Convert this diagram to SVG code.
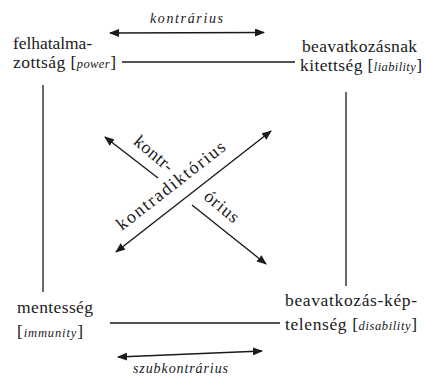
<svg xmlns="http://www.w3.org/2000/svg" width="425" height="378" viewBox="0 0 425 378">
<style>
text{font-family:"Liberation Serif","Times New Roman",serif;fill:#1a1a1a}
.n{font-size:17.5px}
.i{font-style:italic;font-size:12.5px}
.lab{font-style:italic;font-size:14px}
.d{font-size:18px}
.ln{stroke:#1a1a1a;stroke-width:1.3;fill:none}
.ar{stroke:#1a1a1a;stroke-width:1.4;fill:none;marker-end:url(#ah)}
.ar2{stroke:#1a1a1a;stroke-width:1.4;fill:none;marker-start:url(#ahs);marker-end:url(#ah)}
</style>
<defs>
<marker id="ah" viewBox="0 0 10 8" refX="9" refY="4" markerWidth="10" markerHeight="8" markerUnits="userSpaceOnUse" orient="auto"><path d="M0,0 L10,4 L0,8 Z" fill="#1a1a1a"/></marker>
<marker id="ahs" viewBox="0 0 10 8" refX="1" refY="4" markerWidth="10" markerHeight="8" markerUnits="userSpaceOnUse" orient="auto"><path d="M10,0 L0,4 L10,8 Z" fill="#1a1a1a"/></marker>
</defs>
<rect width="425" height="378" fill="#ffffff"/>
<g id="connectors">
<line class="ar2" x1="110" y1="33" x2="264" y2="32.5"/>
<text class="lab" x="150" y="23" textLength="73">kontrárius</text>
<line class="ln" x1="122" y1="62" x2="295" y2="62"/>
<line class="ln" x1="43" y1="85" x2="43" y2="292"/>
<line class="ln" x1="346" y1="92" x2="346" y2="286"/>
<line class="ln" x1="110" y1="323" x2="280" y2="323"/>
<line class="ar2" x1="118" y1="357" x2="262" y2="351"/>
<text class="lab" x="133" y="373" textLength="95">szubkontrárius</text>
<line class="ar2" x1="116" y1="252" x2="271" y2="131"/>
<line class="ar" x1="158" y1="178" x2="105" y2="137"/>
<line class="ar" x1="192" y1="205" x2="266" y2="264"/>
<text class="d" x="174.5" y="190" text-anchor="middle" textLength="133" transform="rotate(-38 174.5 190)">kontradiktórius</text>
<text class="d" x="150" y="158" text-anchor="middle" textLength="46" transform="rotate(40 150 158)">kontr-</text>
<text class="d" x="218" y="211" text-anchor="middle" textLength="40" transform="rotate(40 218 211)">órius</text>
</g>
<g id="power">
<text class="n" x="13" y="49" textLength="79">felhatalma-</text>
<text class="n" x="13" y="68" textLength="103">zottság [<tspan class="i">power</tspan>]</text>
</g>
<g id="liability">
<text class="n" x="302" y="52" textLength="115">beavatkozásnak</text>
<text class="n" x="300" y="71" textLength="122">kitettség [<tspan class="i">liability</tspan>]</text>
</g>
<g id="immunity">
<text class="n" x="17" y="313" textLength="76">mentesség</text>
<text class="n" x="17" y="337" textLength="66">[<tspan class="i">immunity</tspan>]</text>
</g>
<g id="disability">
<text class="n" x="285" y="306" textLength="132">beavatkozás-kép-</text>
<text class="n" x="285" y="330" textLength="132">telenség [<tspan class="i">disability</tspan>]</text>
</g>
</svg>
